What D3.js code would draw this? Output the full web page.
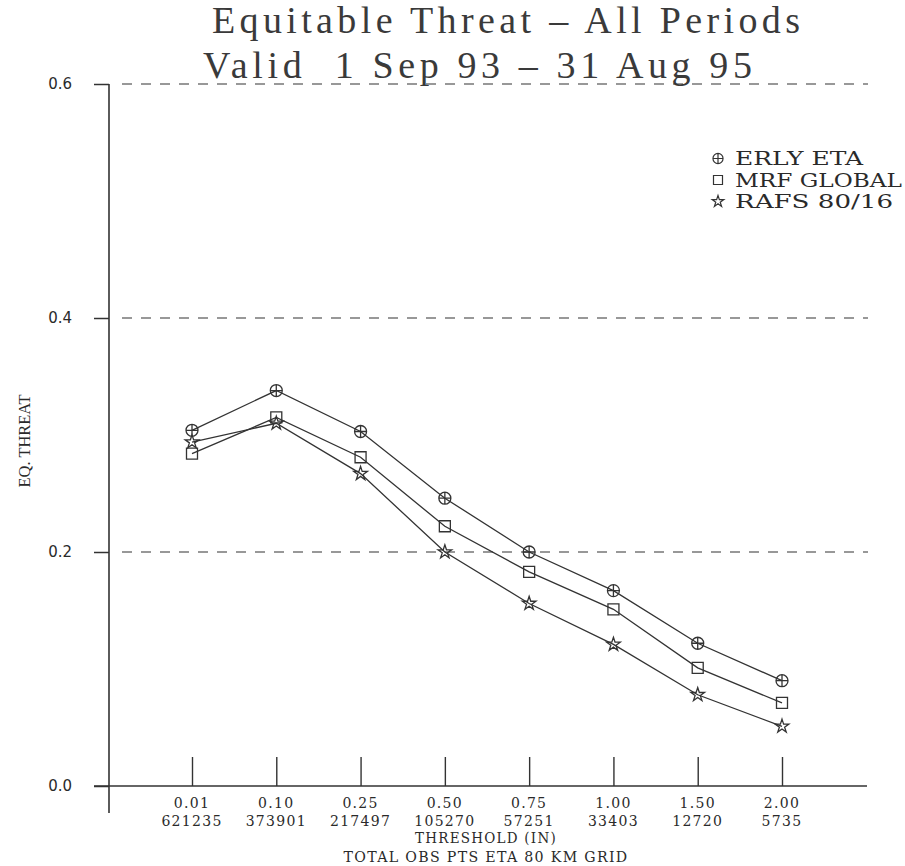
<!DOCTYPE html>
<html>
<head>
<meta charset="utf-8">
<script src="https://cdn.jsdelivr.net/npm/d3@7"></script>
<style>
  body { margin: 0; background: #fff; }
  text { fill: #2a2a2a; }
</style>
</head>
<body>
<svg id="chart" width="905" height="866"></svg>
<script>
// Chart data
var thresholds = ["0.01", "0.10", "0.25", "0.50", "0.75", "1.00", "1.50", "2.00"],
  obsCounts = ["621235", "373901", "217497", "105270", "57251", "33403", "12720", "5735"],
  erlyEta   = [0.304, 0.338, 0.303, 0.246, 0.200, 0.167, 0.122, 0.090],
  mrfGlobal = [0.284, 0.315, 0.281, 0.222, 0.183, 0.151, 0.101, 0.071],
  rafs      = [0.294, 0.310, 0.267, 0.200, 0.156, 0.121, 0.078, 0.051],
  yTicks = [0.0, 0.2, 0.4, 0.6],
  gridTicks = [0.2, 0.4, 0.6],
  seriesNames = ["ERLY ETA", "MRF GLOBAL", "RAFS 80/16"];

var svg = d3.select("#chart"),
  ink = "#333",
  x = d3.scalePoint().domain(thresholds).range([192, 782]),
  y = d3.scaleLinear().domain([0, 0.6]).range([786, 84]);

// circle with a plus inside
var symbolCirclePlus = {
  draw: function (context, size) {
    var r = Math.sqrt(size / Math.PI);
    context.moveTo(r, 0);
    context.arc(0, 0, r, 0, 2 * Math.PI);
    context.moveTo(-r, 0);
    context.lineTo(r, 0);
    context.moveTo(0, -r);
    context.lineTo(0, r);
  }
};

var series = [
  { name: seriesNames[0], values: erlyEta, shape: symbolCirclePlus, size: 113, legendSize: 80 },
  { name: seriesNames[1], values: mrfGlobal, shape: d3.symbolSquare, size: 121, legendSize: 81 },
  { name: seriesNames[2], values: rafs, shape: d3.symbolStar, size: 58, legendSize: 42 }
];

// Titles
svg.append("text")
  .attr("x", 212).attr("y", 33)
  .attr("textLength", 588).attr("lengthAdjust", "spacing")
  .style("font-family", "Liberation Serif").style("font-size", "38px")
  .style("fill", "#3a3a3a")
  .text("Equitable Threat \u2013 All Periods");

svg.append("text")
  .attr("x", 203).attr("y", 78)
  .attr("textLength", 549).attr("lengthAdjust", "spacing")
  .style("font-family", "Liberation Serif").style("font-size", "38px")
  .style("fill", "#3a3a3a")
  .text("Valid\u00a0\u00a01 Sep 93 \u2013 31 Aug 95");

// Dashed grid lines
svg.append("g")
  .selectAll("line")
  .data(gridTicks)
  .join("line")
    .attr("x1", 122).attr("x2", 868)
    .attr("y1", d => y(d)).attr("y2", d => y(d))
    .attr("stroke", ink).attr("stroke-width", 1.2)
    .attr("stroke-dasharray", "10,9");

// Y axis
var yAxis = svg.append("g")
  .attr("transform", "translate(109,0)")
  .call(d3.axisLeft(y).tickValues(yTicks).tickSize(15).tickPadding(22)
    .tickFormat(d3.format(".1f")));
yAxis.select(".domain").remove();
yAxis.attr("font-size", 15).attr("font-family", "DejaVu Sans");
yAxis.selectAll(".tick line").attr("stroke", ink).attr("stroke-width", 1.5);
yAxis.selectAll(".tick text").attr("fill", "#222");

svg.append("line")
  .attr("x1", 109).attr("x2", 109)
  .attr("y1", y(0.6)).attr("y2", y(0) + 27)
  .attr("stroke", ink).attr("stroke-width", 1.6);

svg.append("line")
  .attr("x1", 94).attr("x2", 867)
  .attr("y1", y(0)).attr("y2", y(0))
  .attr("stroke", ink).attr("stroke-width", 1.6);

// X axis ticks pointing up
var xAxis = svg.append("g")
  .attr("transform", "translate(0," + y(0) + ")")
  .call(d3.axisBottom(x).tickSizeInner(-29).tickSizeOuter(0).tickFormat(""));
xAxis.select(".domain").remove();
xAxis.selectAll(".tick line").attr("stroke", ink).attr("stroke-width", 1.4);

// Two-row tick labels
var labels = svg.append("g")
  .style("font-family", "DejaVu Serif").style("font-size", "14px")
  .style("letter-spacing", "1.3px")
  .attr("text-anchor", "middle");

labels.selectAll(".thr")
  .data(thresholds)
  .join("text")
    .attr("class", "thr")
    .attr("x", d => x(d)).attr("y", 808)
    .text(d => d);

labels.selectAll(".cnt")
  .data(thresholds)
  .join("text")
    .attr("class", "cnt")
    .attr("x", d => x(d)).attr("y", 826)
    .text((d, i) => obsCounts[i]);

labels.append("text")
  .attr("x", 486).attr("y", 843)
  .attr("textLength", 142).attr("lengthAdjust", "spacingAndGlyphs")
  .text("THRESHOLD (IN)");

labels.append("text")
  .attr("x", 486).attr("y", 862)
  .attr("textLength", 285).attr("lengthAdjust", "spacingAndGlyphs")
  .text("TOTAL OBS PTS ETA 80 KM GRID");

// Y label
svg.append("text")
  .attr("transform", "translate(30,441) rotate(-90)")
  .attr("text-anchor", "middle")
  .attr("textLength", 93).attr("lengthAdjust", "spacingAndGlyphs")
  .style("font-family", "Liberation Serif").style("font-size", "16px")
  .text("EQ. THREAT");

// Lines and markers
var line = d3.line()
  .x((d, i) => x(thresholds[i]))
  .y(d => y(d));

var groups = svg.append("g")
  .selectAll("g")
  .data(series)
  .join("g");

groups.append("path")
  .attr("d", d => line(d.values))
  .attr("fill", "none")
  .attr("stroke", ink).attr("stroke-width", 1.3);

groups.selectAll(".mark")
  .data(d => d.values.map((v, i) => ({ v: v, t: thresholds[i], s: d })))
  .join("path")
    .attr("class", "mark")
    .attr("transform", d => "translate(" + x(d.t) + "," + y(d.v) + ")")
    .attr("d", d => d3.symbol().type(d.s.shape).size(d.s.size)())
    .attr("fill", "none")
    .attr("stroke", ink).attr("stroke-width", 1.3);

// Legend
var legendRows = [165, 186.5, 208],
  legendWidths = [128, 167, 158];

var legend = svg.append("g")
  .selectAll("g")
  .data(series)
  .join("g")
    .attr("transform", (d, i) => "translate(0," + legendRows[i] + ")");

legend.append("path")
  .attr("transform", "translate(718,-6.5)")
  .attr("d", d => d3.symbol().type(d.shape).size(d.legendSize)())
  .attr("fill", "none")
  .attr("stroke", ink).attr("stroke-width", 1.2);

legend.append("text")
  .attr("x", 735)
  .attr("textLength", (d, i) => legendWidths[i]).attr("lengthAdjust", "spacingAndGlyphs")
  .style("font-family", "DejaVu Serif").style("font-size", "19px")
  .text(d => d.name);
</script>
</body>
</html>
